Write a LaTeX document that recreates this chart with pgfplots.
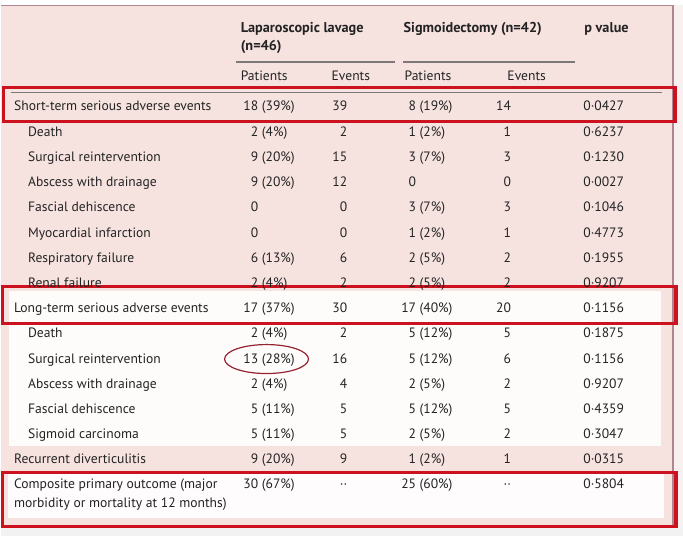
\documentclass[border=0pt]{standalone}
\usepackage{pgfplots}
\pgfplotsset{compat=1.18}
\usepackage{pgfplotstable}
\usepackage{fontspec}
\setmainfont{PT Sans}
\definecolor{bgpink}{RGB}{246,227,224}
\definecolor{bgpinkl}{RGB}{250,240,239}
\definecolor{boxred}{RGB}{204,18,30}
\definecolor{rulegray}{RGB}{125,120,120}
\definecolor{txt}{RGB}{35,35,35}
\definecolor{mauve}{RGB}{175,135,145}
\definecolor{ellred}{RGB}{150,35,50}
\definecolor{outergray}{RGB}{242,242,242}

\pgfplotstableread[col sep=comma]{
y,main,sub,lpn,lpp,lev,spn,spp,sev,pv
107,Short-term serious adverse events,,18,(39\%),39,8,(19\%),14,0·0427
132.5,,Death,2,(4\%),2,1,(2\%),1,0·6237
158,,Surgical reintervention,9,(20\%),15,3,(7\%),3,0·1230
183,,Abscess with drainage,9,(20\%),12,0,,0,0·0027
208,,Fascial dehiscence,0,,0,3,(7\%),3,0·1046
233.5,,Myocardial infarction,0,,0,1,(2\%),1,0·4773
258.5,,Respiratory failure,6,(13\%),6,2,(5\%),2,0·1955
283.5,,Renal failure,2,(4\%),2,2,(5\%),2,0·9207
308.5,Long-term serious adverse events,,17,(37\%),30,17,(40\%),20,0·1156
334,,Death,2,(4\%),2,5,(12\%),5,0·1875
359.5,,Surgical reintervention,13,(28\%),16,5,(12\%),6,0·1156
384.5,,Abscess with drainage,2,(4\%),4,2,(5\%),2,0·9207
410,,Fascial dehiscence,5,(11\%),5,5,(12\%),5,0·4359
435,,Sigmoid carcinoma,5,(11\%),5,2,(5\%),2,0·3047
460,Recurrent diverticulitis,,9,(20\%),9,1,(2\%),1,0·0315
485,Composite primary outcome (major,,30,(67\%),··,25,(60\%),··,0·5804
504,morbidity or mortality at 12 months),,,,,,,,
}\tbl

\pgfplotstableread[col sep=comma]{
x,y,t
240,29,Laparoscopic lavage
240,47,(n=46)
403,29,Sigmoidectomy (n=42)
584,29,p value
}\hdrbold

\pgfplotstableread[col sep=comma]{
x,y,t
240,77,Patients
331,77,Events
404,77,Patients
507,77,Events
}\hdrsub

\pgfplotsset{
  cell/.style={draw=none, mark=none, nodes near coords, point meta=explicit symbolic,
    every node near coord/.append style={font=\fontsize{10.2}{12}\selectfont, text=txt,
      inner sep=0pt, text height=1.6ex, text depth=.4ex, anchor=#1}},
  rect/.style={draw=none, fill=#1, line join=miter},
}

\begin{document}
\begin{tikzpicture}
\begin{axis}[
  width=512.25pt, height=402.75pt, scale only axis,
  xmin=0, xmax=683, ymin=0, ymax=537, y dir=reverse,
  axis lines=none, clip=false,
]
% backgrounds
\addplot[rect=outergray] coordinates {(0,0) (683,0) (683,537) (0,537)} -- cycle;
\addplot[rect=white] coordinates {(0,0) (683,0) (683,5) (0,5)} -- cycle;
\addplot[rect=bgpink] coordinates {(0,6) (673,6) (673,527) (0,527)} -- cycle;
\addplot[rect=bgpinkl] coordinates {(673,6) (683,6) (683,527) (673,527)} -- cycle;
\addplot[rect=white!88!bgpink] coordinates {(8,291) (661,291) (661,447) (8,447)} -- cycle;
\addplot[rect=white!90!bgpink] coordinates {(7,475) (664,475) (664,519) (7,519)} -- cycle;
\addplot[mauve, line width=1.3pt] coordinates {(0,5.5) (673,5.5)};
\addplot[mauve, line width=0.8pt] coordinates {(673,5.5) (673,527)};
% table rules
\addplot[rulegray, line width=1.2pt] coordinates {(235,62) (395,62)};
\addplot[rulegray, line width=1.2pt] coordinates {(403,62) (575,62)};
\addplot[rulegray, line width=1.1pt] coordinates {(10,92.5) (662,92.5)};
% headers
\addplot[cell=west, every node near coord/.append style={font=\fontsize{10.7}{12}\bfseries\selectfont}]
  table[x=x, y=y, meta=t] {\hdrbold};
\addplot[cell=west] table[x=x, y=y, meta=t] {\hdrsub};
% body
\addplot[cell=west] table[x expr=13, y=y, meta=main] {\tbl};
\addplot[cell=west] table[x expr=27, y=y, meta=sub] {\tbl};
\addplot[cell=east] table[x expr=258, y=y, meta=lpn] {\tbl};
\addplot[cell=west] table[x expr=261, y=y, meta=lpp] {\tbl};
\addplot[cell=east] table[x expr=347, y=y, meta=lev] {\tbl};
\addplot[cell=east] table[x expr=416, y=y, meta=spn] {\tbl};
\addplot[cell=west] table[x expr=419, y=y, meta=spp] {\tbl};
\addplot[cell=east] table[x expr=511, y=y, meta=sev] {\tbl};
\addplot[cell=west] table[x expr=583, y=y, meta=pv] {\tbl};
% red highlight boxes
\addplot[draw=boxred, line width=2.3pt, line join=miter] coordinates {(3,88) (675,88) (675,122) (3,122)} -- cycle;
\addplot[draw=boxred, line width=2.3pt, line join=miter] coordinates {(1.5,287) (676,287) (676,324) (1.5,324)} -- cycle;
\addplot[draw=boxred, line width=2.3pt, line join=miter] coordinates {(1.5,473) (676,473) (676,527) (1.5,527)} -- cycle;
\draw[ellred, line width=0.9pt] (axis cs:266,359.5) ellipse [x radius=42, y radius=14.5];
\end{axis}
\end{tikzpicture}
\end{document}
